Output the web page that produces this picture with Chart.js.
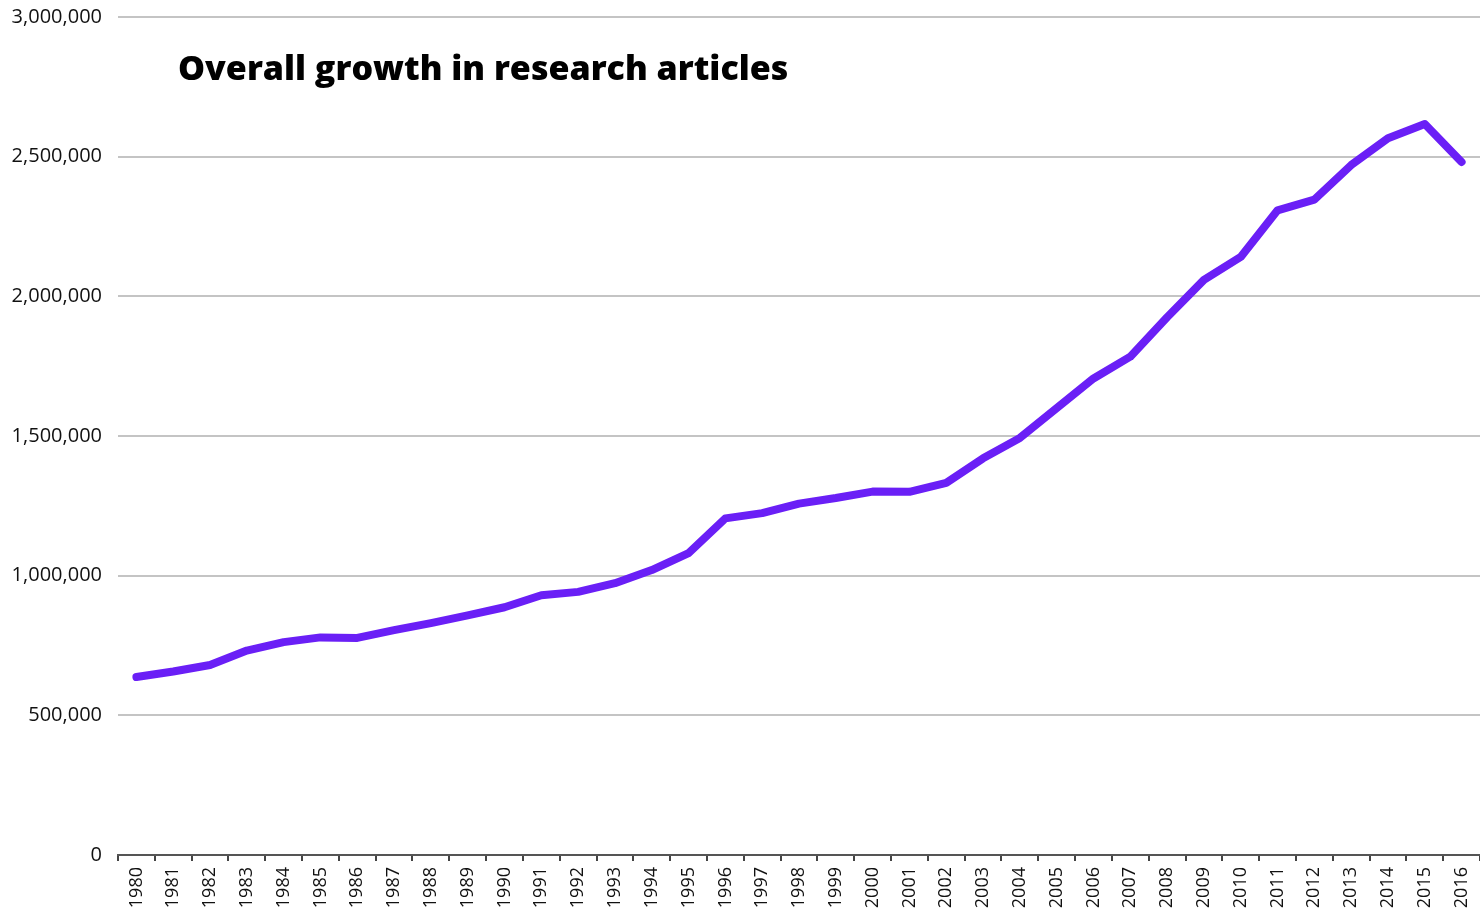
<!DOCTYPE html>
<html>
<head>
<meta charset="utf-8">
<script src="https://cdn.jsdelivr.net/npm/chart.js@4.4.1/dist/chart.umd.min.js"></script>
<style>
  html, body { margin: 0; padding: 0; background: #fff; }
  #wrap { width: 1480px; height: 915px; position: relative; }
</style>
</head>
<body>
<div id="wrap"><canvas id="growthChart"></canvas></div>
<script>
const years = [
  "1980", "1981", "1982", "1983", "1984", "1985", "1986", "1987", "1988", "1989",
  "1990", "1991", "1992", "1993", "1994", "1995", "1996", "1997", "1998", "1999",
  "2000", "2001", "2002", "2003", "2004", "2005", "2006", "2007", "2008", "2009",
  "2010", "2011", "2012", "2013", "2014", "2015", "2016"
];

const articles = [
  637000, 657000, 680000, 732000, 762000, 779000, 777000, 805000, 830000, 858000,
  887000, 930000, 942000, 973000, 1020000, 1081000, 1205000, 1224000, 1258000, 1278000,
  1301000, 1300000, 1332000, 1420000, 1493000, 1600000, 1706000, 1784000, 1925000, 2059000,
  2141000, 2308000, 2346000, 2470000, 2566000, 2617000, 2481000
];

const yTicks = [0, 500000, 1000000, 1500000, 2000000, 2500000, 3000000];

const chartTitle = "Overall growth in research articles";

// title sits inside the plot area, top left
const titlePlugin = {
  id: "insideTitle",
  afterDraw(chart) {
    const ctx = chart.ctx;
    const area = chart.chartArea;
    ctx.save();
    ctx.font = "800 34px 'Open Sans'";
    ctx.fillStyle = "#000";
    ctx.textBaseline = "middle";
    ctx.textAlign = "left";
    ctx.fillText(chartTitle, area.left + 60, area.top + 53);
    ctx.restore();
  }
};

const ctx = document.getElementById("growthChart").getContext("2d");

new Chart(ctx, {
  type: "line",
  data: {
    labels: years,
    datasets: [{
      label: "Research articles",
      data: articles,
      borderColor: "#6a1ff6",
      borderWidth: 8,
      borderCapStyle: "round",
      borderJoinStyle: "round",
      pointRadius: 0,
      tension: 0,
      fill: false
    }]
  },
  options: {
    responsive: true,
    maintainAspectRatio: false,
    animation: false,
    layout: { padding: { top: 17, right: 0, bottom: 0, left: 0 } },
    plugins: {
      legend: { display: false },
      tooltip: { enabled: false }
    },
    scales: {
      x: {
        offset: true,
        grid: {
          offset: true,
          drawOnChartArea: false,
          drawTicks: true,
          tickLength: 6,
          color: "#444",
          lineWidth: 2
        },
        border: { display: true, color: "#555", width: 2 },
        ticks: {
          autoSkip: false,
          maxRotation: 90,
          minRotation: 90,
          padding: 6,
          color: "#111",
          font: { family: "'Open Sans'", size: 18 }
        },
        afterFit(scale) {
          scale.height = 60;
          scale.paddingLeft = 0;
          scale.paddingRight = 0;
        }
      },
      y: {
        min: 0,
        max: 3000000,
        afterBuildTicks(scale) {
          scale.ticks = yTicks.map(v => ({ value: v }));
        },
        grid: {
          drawTicks: false,
          color: "#c4c4c4",
          lineWidth: 2
        },
        border: { display: false },
        ticks: {
          padding: 16,
          color: "#111",
          font: { family: "'Open Sans'", size: 20 },
          callback: v => v.toLocaleString("en-US")
        },
        afterFit(scale) {
          scale.width = 118;
          scale.paddingTop = 0;
          scale.paddingBottom = 0;
        }
      }
    }
  },
  plugins: [titlePlugin]
});
</script>
</body>
</html>
